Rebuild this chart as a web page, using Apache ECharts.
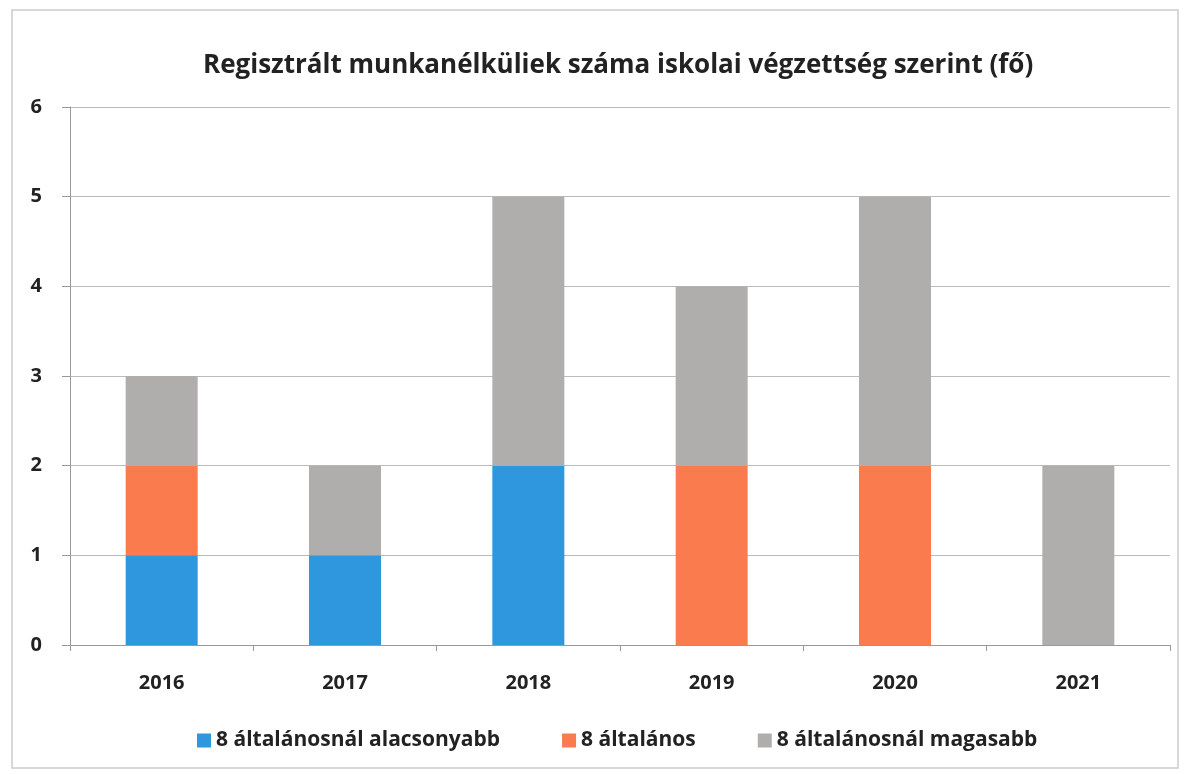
<!DOCTYPE html>
<html>
<head>
<meta charset="utf-8">
<script src="https://cdn.jsdelivr.net/npm/echarts@6/dist/echarts.min.js"></script>
<style>
  html, body { margin: 0; padding: 0; background: #fff; }
  #chart { width: 1188px; height: 774px; }
</style>
</head>
<body>
<div id="chart"></div>
<script>
const years = ['2016', '2017', '2018', '2019', '2020', '2021']
const alacsonyabb = [1, 1, 2, 0, 0, 0]
const altalanos = [1, 0, 0, 2, 2, 0]
const magasabb = [1, 1, 3, 2, 3, 2]
const seriesNames = ['8 általánosnál alacsonyabb', '8 általános', '8 általánosnál magasabb']
const colors = ['#2e97dd', '#fa7c4e', '#b0adad']

const font = '"Open Sans", "Noto Sans", sans-serif'
const chart = echarts.init(document.getElementById('chart'))

function bar(name, data, color) {
  return {
    name,
    type: 'bar',
    stack: 'total',
    barWidth: 72,
    data,
    itemStyle: { color }
  }
}

chart.setOption({
  backgroundColor: '#fff',
  animation: false,
  title: {
    text: 'Regisztrált munkanélküliek száma iskolai végzettség szerint (fő)',
    left: 198,
    top: 48,
    textStyle: { fontFamily: font, fontSize: 26, fontWeight: 'bold', color: '#222' }
  },
  legend: {
    bottom: 18,
    left: 192,
    itemWidth: 14,
    itemHeight: 14,
    itemGap: 62,
    icon: 'rect',
    textStyle: { fontFamily: font, fontSize: 21, fontWeight: 'bold', color: '#222' }
  },
  graphic: [{
    type: 'rect',
    shape: { x: 12, y: 10, width: 1166, height: 758 },
    style: { fill: 'none', stroke: '#ccc', lineWidth: 1.5 }
  }],
  grid: { left: 70, right: 18, top: 107, bottom: 129 },
  xAxis: {
    type: 'category',
    data: years,
    axisLine: { lineStyle: { color: '#999' } },
    axisTick: { show: true, alignWithLabel: false, length: 6, lineStyle: { color: '#999' } },
    axisLabel: { margin: 28, fontFamily: font, fontSize: 20, fontWeight: 'bold', color: '#222' }
  },
  yAxis: {
    type: 'value',
    min: 0,
    max: 6,
    interval: 1,
    axisLine: { show: true, lineStyle: { color: '#999' } },
    axisTick: { show: true, length: 8, lineStyle: { color: '#999' } },
    splitLine: { lineStyle: { color: '#bbb' } },
    axisLabel: { margin: 28, fontFamily: font, fontSize: 20, fontWeight: 'bold', color: '#222' }
  },
  series: [
    bar(seriesNames[0], alacsonyabb, colors[0]),
    bar(seriesNames[1], altalanos, colors[1]),
    bar(seriesNames[2], magasabb, colors[2])
  ]
})
</script>
</body>
</html>
